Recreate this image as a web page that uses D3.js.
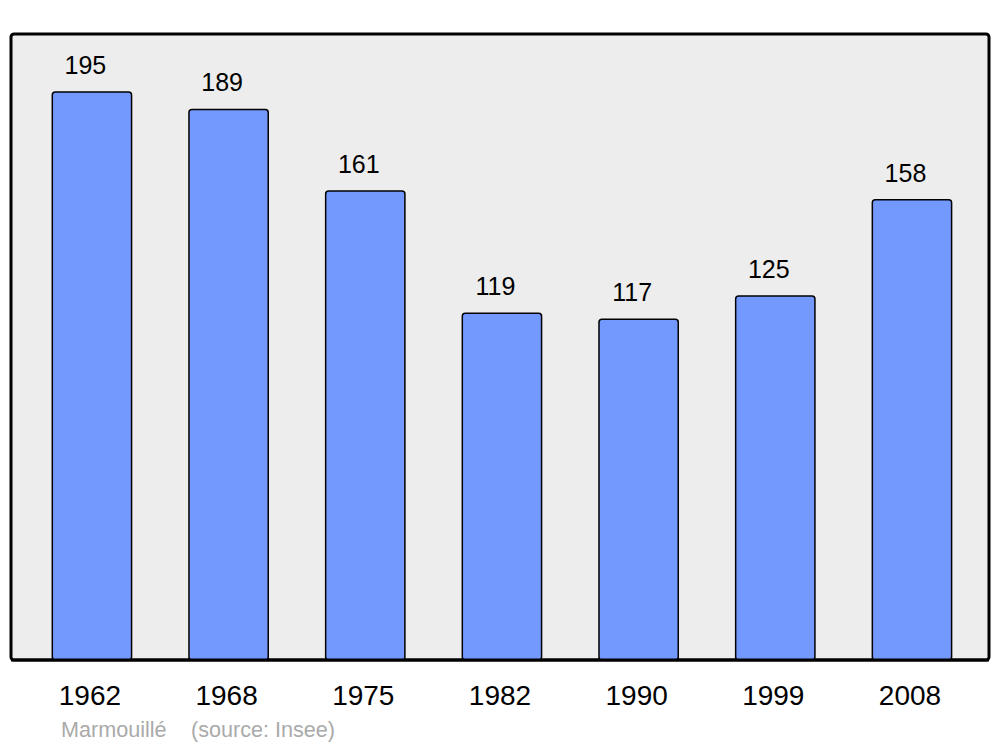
<!DOCTYPE html>
<html><head><meta charset="utf-8">
<script src="https://cdn.jsdelivr.net/npm/d3@7/dist/d3.min.js"></script>
<style>body{margin:0;background:#fff}svg{display:block}</style>
</head><body>
<script>
const years = ["1962","1968","1975","1982","1990","1999","2008"];
const population = [195,189,161,119,117,125,158];
const commune = "Marmouillé";
const source = "(source: Insee)";

const W = 1000, H = 747;
const svg = d3.select("body").append("svg").attr("width", W).attr("height", H);
const font = "Liberation Sans, Arial, sans-serif";

const x = d3.scaleBand().domain(years).range([23.6, 980.3]).paddingInner(0.42).paddingOuter(0.21);
const y = d3.scaleLinear().domain([0, 214.9]).range([660, 34]);

svg.append("rect").attr("x", 11).attr("y", 34).attr("width", 978).attr("height", 626)
  .attr("rx", 3).attr("fill", "#ededed").attr("stroke", "#000").attr("stroke-width", 3);

const data = years.map((yr, i) => ({yr, v: population[i]}));

svg.selectAll("rect.bar").data(data).join("rect").attr("class", "bar")
  .attr("x", d => x(d.yr)).attr("width", x.bandwidth())
  .attr("y", d => y(d.v)).attr("height", d => y(0) - y(d.v))
  .attr("rx", 3).attr("fill", "#7399ff").attr("stroke", "#000").attr("stroke-width", 1.5);

svg.append("line").attr("x1", 11).attr("x2", 989).attr("y1", 660).attr("y2", 660)
  .attr("stroke", "#000").attr("stroke-width", 3);

svg.selectAll("text.val").data(data).join("text").attr("class", "val")
  .attr("x", d => x(d.yr) + x.bandwidth() / 2 - 6.5).attr("y", d => y(d.v) - 18)
  .attr("text-anchor", "middle").attr("font-family", font).attr("font-size", 25)
  .text(d => d.v);

const xAxis = d3.axisBottom(x).tickSize(0).tickPadding(0);
const gx = svg.append("g").attr("transform", "translate(-2,0)").call(xAxis);
gx.select(".domain").remove();
gx.selectAll("text").attr("y", 705).attr("dy", null).attr("font-family", font).attr("font-size", 28).attr("fill", "#000");

svg.append("text").attr("x", 61).attr("y", 737).attr("font-family", font).attr("font-size", 21.6)
  .attr("fill", "#aaaaaa").text(commune);
svg.append("text").attr("x", 191).attr("y", 737).attr("font-family", font).attr("font-size", 21.6)
  .attr("fill", "#aaaaaa").text(source);
</script>
</body></html>
